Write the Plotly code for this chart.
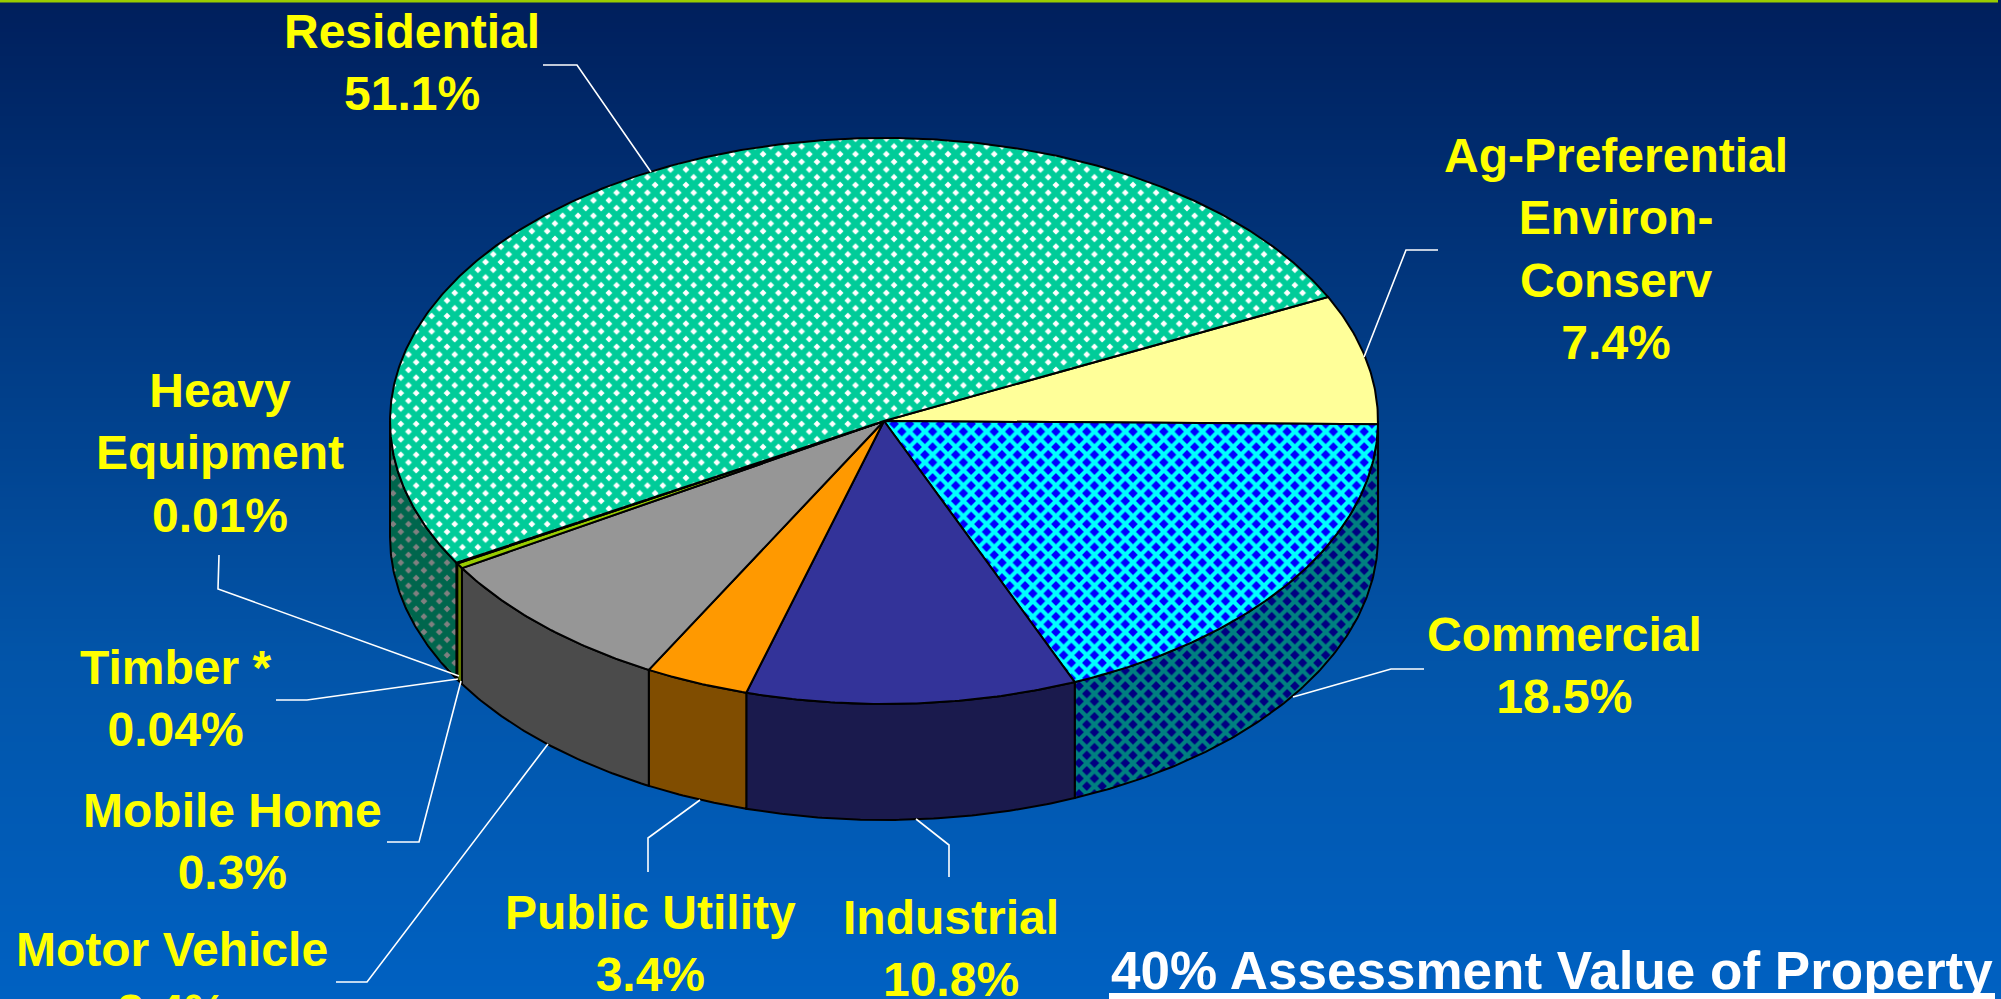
import math
import plotly.graph_objects as go

# ---- data ----
categories = ["Ag-Preferential Environ-Conserv", "Commercial", "Industrial", "Public Utility",
              "Motor Vehicle", "Mobile Home", "Timber *", "Heavy Equipment", "Residential"]
values = [7.4, 18.5, 10.8, 3.4, 8.4, 0.3, 0.04, 0.01, 51.1]
value_labels = ["7.4%", "18.5%", "10.8%", "3.4%", "8.4%", "0.3%", "0.04%", "0.01%", "51.1%"]
name_lines = ["Ag-Preferential<br>Environ-<br>Conserv", "Commercial", "Industrial", "Public Utility",
              "Motor Vehicle", "Mobile Home", "Timber *", "Heavy<br>Equipment", "Residential"]
footnote = "40% Assessment Value of Property"

# ---- styles / layout ----
W, H = 2001, 999
CX, CY, RX, RY, DEPTH = 884, 421, 494, 283, 116
START = -26.0
top_style = [
    dict(color="#FFFF99"),
    dict(color="#00FFFF", pattern=dict(shape="x", bg="#0000FF", fg="#00FFFF", size=10.9, solidity=0.62)),
    dict(color="#333399"),
    dict(color="#FF9900"),
    dict(color="#969696"),
    dict(color="#99CC00"),
    dict(color="#000000"),
    dict(color="#000000"),
    dict(color="#00CC99", pattern=dict(shape="x", bg="#FFFFFF", fg="#00CC99", size=10.9, solidity=0.8)),
]
side_style = [
    dict(color="#80804D"),
    dict(color="#008080", pattern=dict(shape="x", bg="#000080", fg="#008080", size=10.9, solidity=0.62)),
    dict(color="#1A1A4D"),
    dict(color="#804D00"),
    dict(color="#4B4B4B"),
    dict(color="#667F00"),
    dict(color="#000000"),
    dict(color="#000000"),
    dict(color="#00664D", pattern=dict(shape="x", bg="#808080", fg="#00664D", size=10.9, solidity=0.8)),
]
label_xy = [(1616, 249), (1564, 665), (951, 948), (650, 943), (172, 980), (232, 841), (176, 698), (220, 453), (412, 62)]
leaders = [
    [(1438, 250), (1406, 250), (1364, 357)],
    [(1424, 669), (1391, 669), (1293, 697)],
    [(949, 877), (949, 845), (916, 819)],
    [(648, 872), (648, 838), (700, 800)],
    [(336, 982), (367, 982), (548, 744)],
    [(387, 842), (419, 842), (461, 681)],
    [(276, 700), (307, 700), (458, 679)],
    [(219, 555), (218, 589), (459, 676)],
    [(543, 65), (577, 65), (651, 172)],
]
grad_stops = [[0, "#001F5C"], [0.65, "#0254A8"], [1, "#0061C2"]]


def pt(a, dy=0):
    r = math.radians(a)
    return CX + RX * math.cos(r), CY + RY * math.sin(r) + dy


def arc(a0, a1, dy=0):
    n = max(2, int(abs(a1 - a0) * 2) + 2)
    return [pt(a0 + (a1 - a0) * i / (n - 1), dy) for i in range(n)]


def poly(points, style, name):
    xs = [p[0] for p in points] + [points[0][0]]
    ys = [p[1] for p in points] + [points[0][1]]
    kw = {}
    if "pattern" in style:
        p = style["pattern"]
        kw["fillpattern"] = dict(shape=p["shape"], bgcolor=p["bg"], fgcolor=p["fg"], fgopacity=1,
                                 size=p["size"], solidity=p["solidity"])
    return go.Scatter(x=xs, y=ys, mode="lines", fill="toself", fillcolor=style["color"],
                      line=dict(color="black", width=2), hoverinfo="text", text=name,
                      showlegend=False, **kw)


fig = go.Figure()

# background gradient
rows = list(range(0, H + 1, 3))
fig.add_trace(go.Heatmap(x=[0, W], y=rows, z=[[r / H, r / H] for r in rows], colorscale=grad_stops,
                         zmin=0, zmax=1, showscale=False, hoverinfo="skip"))

total = sum(values)
angles = [START]
for v in values:
    angles.append(angles[-1] + v / total * 360)

# walls (front half only)
for i, name in enumerate(categories):
    a0, a1 = angles[i], angles[i + 1]
    lo, hi = max(a0, 0), min(a1, 180)
    if hi > lo:
        fig.add_trace(poly(arc(lo, hi) + arc(hi, lo, DEPTH), side_style[i], name))

# top faces
for i, name in enumerate(categories):
    fig.add_trace(poly([(CX, CY)] + arc(angles[i], angles[i + 1]), top_style[i], name))

shapes = [dict(type="rect", xref="x", yref="y", x0=0, x1=1998, y0=0, y1=2.5,
               fillcolor="#99CC00", line_width=0, layer="above"),
          dict(type="rect", xref="x", yref="y", x0=1109, x1=1995, y0=993, y1=999,
               fillcolor="white", line_width=0, layer="above")]
for seg in leaders:
    path = "M" + " L".join(f"{x},{y}" for x, y in seg)
    shapes.append(dict(type="path", xref="x", yref="y", path=path,
                       line=dict(color="white", width=1.6), layer="above"))

annotations = []
for i, (x, y) in enumerate(label_xy):
    annotations.append(dict(x=x, y=y, xref="x", yref="y", showarrow=False, xanchor="center", yanchor="middle",
                            align="center", text=f"{name_lines[i]}<br>{value_labels[i]}",
                            font=dict(family="Liberation Sans", size=48, color="#FFFF00", weight="bold")))
annotations.append(dict(x=1552, y=970, xref="x", yref="y", showarrow=False, xanchor="center", yanchor="middle",
                        text=footnote, font=dict(family="Liberation Sans", size=53, color="white", weight="bold")))

fig.update_layout(
    width=W, height=H, margin=dict(l=0, r=0, t=0, b=0),
    paper_bgcolor="#00409A", plot_bgcolor="#00409A", showlegend=False,
    xaxis=dict(range=[0, W], visible=False, fixedrange=True),
    yaxis=dict(range=[H, 0], visible=False, fixedrange=True),
    shapes=shapes, annotations=annotations,
)
fig.write_html("out.html", config=dict(displayModeBar=False),
               post_script="document.body.style.margin='0';document.documentElement.style.overflow='hidden';")
